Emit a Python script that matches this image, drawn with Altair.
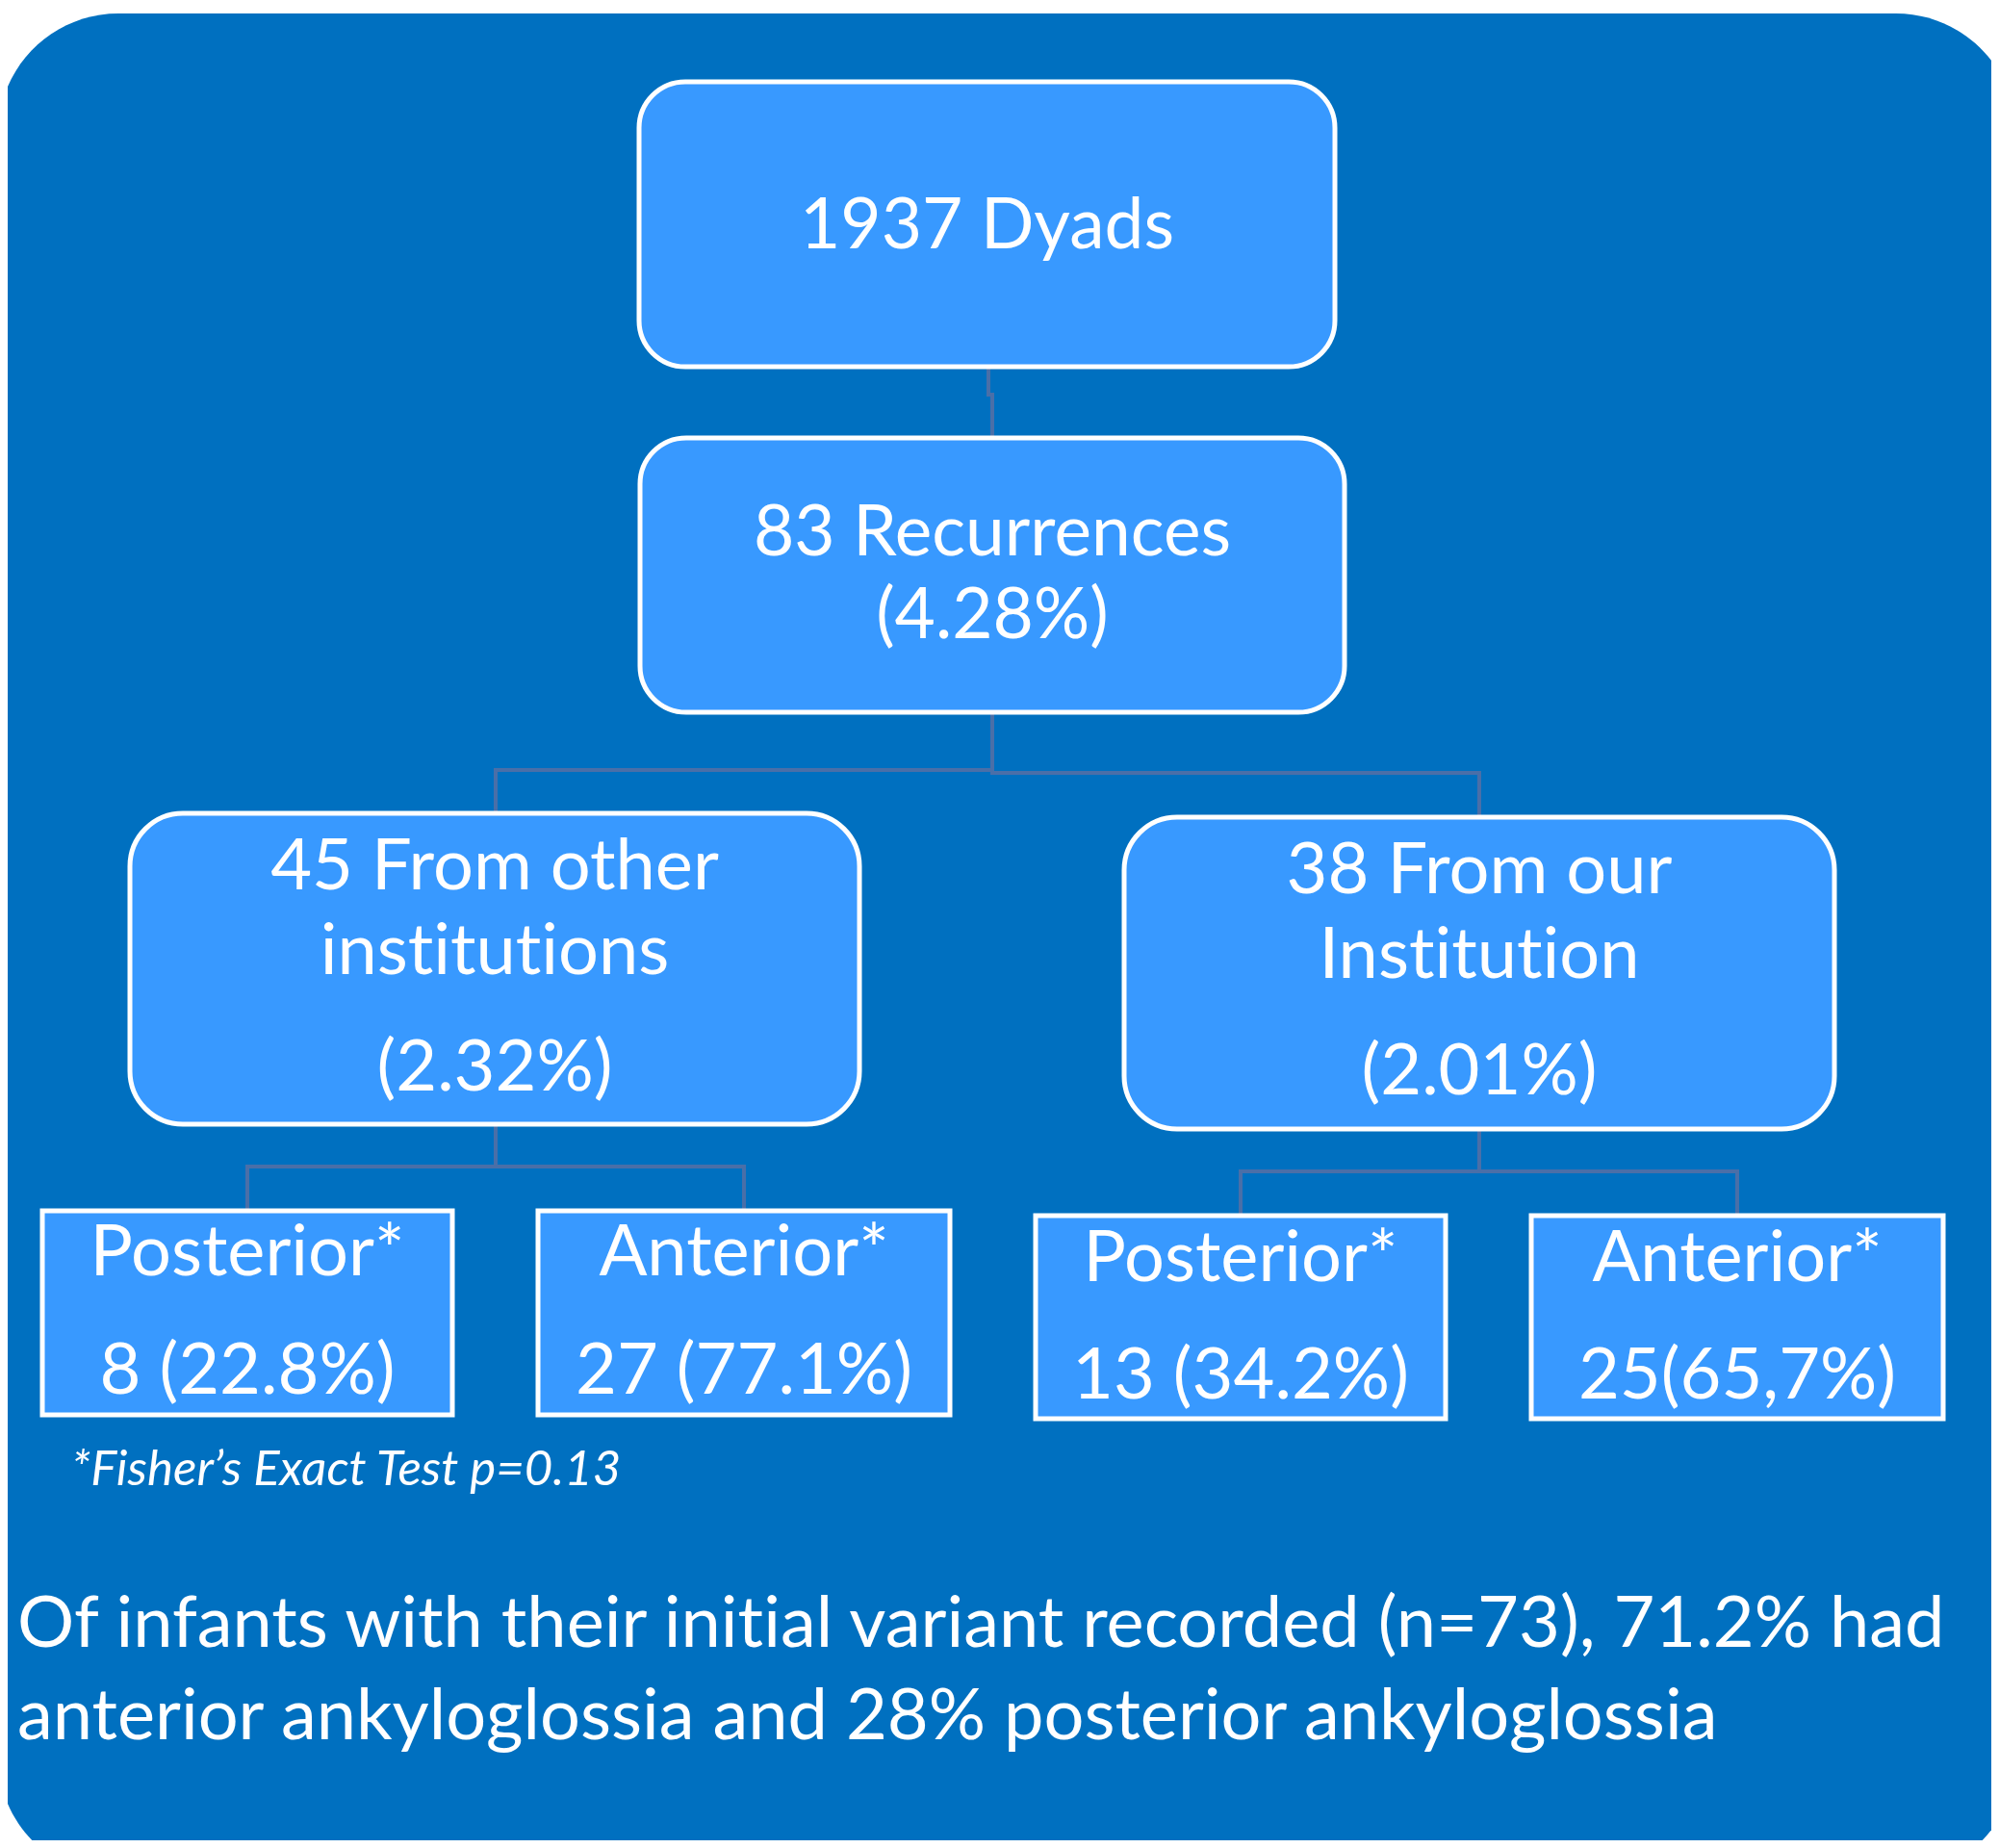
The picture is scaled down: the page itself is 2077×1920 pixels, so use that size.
import altair as alt
import pandas as pd

ZW = "\u200c"  # keeps "t" and "i" as separate glyphs (no ligature)

# ---------------- content ----------------
box_texts = [
    ["1937 Dyads"],
    ["83 Recurrences", "(4.28%)"],
    ["45 From other", "ins" + "t" + ZW + "itut" + ZW + "ions"],
    ["38 From our", "Ins" + "t" + ZW + "itut" + ZW + "ion"],
    ["Posterior*", "8 (22.8%)"],
    ["Anterior*", "27 (77.1%)"],
    ["Posterior*", "13 (34.2%)"],
    ["Anterior*", "25(65,7%)"],
]
box_texts[2].append("(2.32%)")
box_texts[3].append("(2.01%)")
footnote = "*Fisher\u2019s Exact Test p=0.13"
summary_lines = [
    "Of infants with their ini" + "t" + ZW + "ial variant recorded (n=73), 71.2% had",
    "anterior ankyloglossia and 28% posterior ankyloglossia",
]

# ---------------- layout (pixel space of the 2077x1920 picture) ----------------
box_x1 = [664, 665, 135, 1168, 44, 559, 1076, 1591]
box_x2 = [1387, 1397, 893, 1906, 470, 987, 1502, 2019]
box_y1 = [85, 455, 845, 849, 1258, 1258, 1263, 1263]
box_y2 = [381, 740, 1168, 1173, 1470, 1470, 1474, 1474]
box_radius = [48, 48, 55, 55, 0, 0, 0, 0]
box_font = [73, 73, 74, 74, 74, 74, 74, 74]
line_baselines = [
    [258],
    [577, 663],
    [924, 1012, 1133],
    [928, 1016, 1137],
    [1325, 1448],
    [1325, 1448],
    [1331, 1453],
    [1331, 1453],
]

# connector segments: x1, y1, x2, y2
seg_x1 = [1027, 1027, 1031, 1031, 515, 1031, 515, 1537, 515, 257, 257, 773, 1537, 1289, 1289, 1805]
seg_y1 = [383, 410, 410, 740, 800, 803, 800, 803, 1168, 1212, 1212, 1212, 1173, 1217, 1217, 1217]
seg_x2 = [1027, 1031, 1031, 1031, 1031, 1537, 515, 1537, 515, 773, 257, 773, 1537, 1805, 1289, 1805]
seg_y2 = [410, 410, 455, 803, 800, 803, 845, 849, 1212, 1212, 1258, 1258, 1217, 1217, 1263, 1263]

BG = "#0070C0"
BOX = "#3899FF"
LINE = "#4A6FA8"
FONT = "Lato"

X0, X1, Y0, Y1 = 8, 2069, 8, 1912
xs = alt.Scale(domain=[X0, X1])
ys = alt.Scale(domain=[Y0, Y1], reverse=True)

def X(f):
    return alt.X(f, type="quantitative", scale=xs, axis=None)

def Y(f):
    return alt.Y(f, type="quantitative", scale=ys, axis=None)

bg_df = pd.DataFrame({"x1": [-2], "x2": [2095], "y1": [14], "y2": [1950]})
bg = alt.Chart(bg_df).mark_rect(color=BG, cornerRadius=125, clip=True).encode(
    x=X("x1"), x2="x2", y=Y("y1"), y2="y2"
)

seg_df = pd.DataFrame({"x1": seg_x1, "y1": seg_y1, "x2": seg_x2, "y2": seg_y2})
segs = alt.Chart(seg_df).mark_rule(color=LINE, strokeWidth=4, strokeCap="square").encode(
    x=X("x1"), x2="x2", y=Y("y1"), y2="y2"
)

box_layers = []
text_layers = []
for i in range(len(box_texts)):
    d = pd.DataFrame({"x1": [box_x1[i]], "x2": [box_x2[i]], "y1": [box_y1[i]], "y2": [box_y2[i]]})
    box_layers.append(
        alt.Chart(d).mark_rect(
            fill=BOX, stroke="white", strokeWidth=5, cornerRadius=box_radius[i]
        ).encode(x=X("x1"), x2="x2", y=Y("y1"), y2="y2")
    )
    cx = (box_x1[i] + box_x2[i]) / 2
    td = pd.DataFrame({"t": box_texts[i], "x": [cx] * len(box_texts[i]), "y": line_baselines[i]})
    text_layers.append(
        alt.Chart(td).mark_text(
            font=FONT, fontSize=box_font[i], color="white", align="center", baseline="alphabetic"
        ).encode(x=X("x"), y=Y("y"), text="t:N")
    )

fn_df = pd.DataFrame({"t": [footnote], "x": [74], "y": [1543]})
fn = alt.Chart(fn_df).mark_text(
    font=FONT, fontSize=51, fontStyle="italic", color="white", align="left", baseline="alphabetic"
).encode(x=X("x"), y=Y("y"), text="t:N")

sum_df = pd.DataFrame({"t": summary_lines, "x": [18, 18], "y": [1711, 1807]})
summ = alt.Chart(sum_df).mark_text(
    font=FONT, fontSize=74, color="white", align="left", baseline="alphabetic"
).encode(x=X("x"), y=Y("y"), text="t:N")

chart = alt.layer(bg, segs, *box_layers, *text_layers, fn, summ).properties(
    width=X1 - X0, height=Y1 - Y0, padding=0, autosize=alt.AutoSizeParams(type="none"),
    background="white",
).configure_view(stroke=None)

chart.save("out.html", embed_options={"renderer": "svg", "actions": False})
